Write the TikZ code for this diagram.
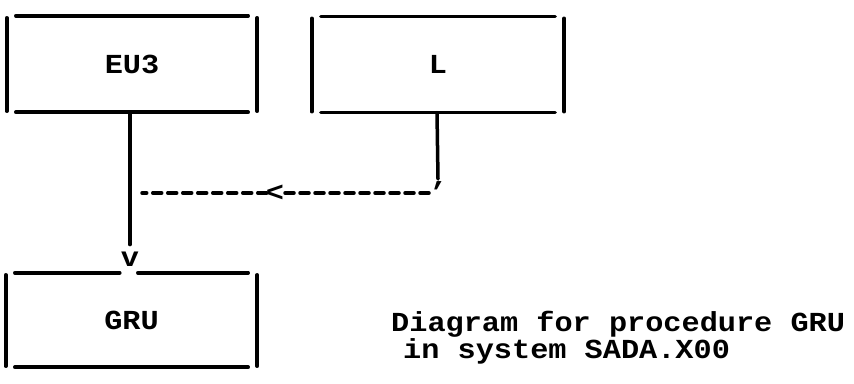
\documentclass[tikz,border=0pt]{standalone}
\usepackage{fontspec}
\setmainfont{Liberation Mono}[FakeStretch=1.1]
\begin{document}
\begin{tikzpicture}[x=1pt,y=-1pt,
  ln/.style={line width=3.5pt,line cap=round},
  dsh/.style={line width=3.5pt,line cap=round,dash pattern=on 9pt off 6pt},
  lbl/.style={inner sep=0pt,font=\fontsize{27.5}{26.5}\selectfont\bfseries},
  boxlbl/.style={lbl,minimum width=#1,minimum height=96pt},
  captext/.style={lbl,align=left,anchor=north west}]
\useasboundingbox (0,0) rectangle (854,383);
% box labels (boxes drawn as separate sides)
\node[boxlbl=250pt] (eu3) at (132,64) {EU3};
\node[boxlbl=252pt] (l) at (438,64.5) {L};
\node[boxlbl=251pt,minimum height=94pt] (gru) at (131.5,320) {GRU};
% sides
\foreach \b in {eu3,l} {
  \draw[ln] ([xshift=9pt]\b.north west) -- ([xshift=-9pt]\b.north east);
  \draw[ln] ([xshift=9pt]\b.south west) -- ([xshift=-9pt]\b.south east);
  \draw[ln] ([yshift=-2pt]\b.north west) -- ([yshift=1pt]\b.south west);
  \draw[ln] ([yshift=-2pt]\b.north east) -- ([yshift=1pt]\b.south east);
}
\draw[ln] ([xshift=9pt]gru.north west) -- ([xshift=114pt]gru.north west);
\draw[ln] ([xshift=132pt]gru.north west) -- ([xshift=-9pt]gru.north east);
\draw[ln] ([xshift=9pt]gru.south west) -- ([xshift=-9pt]gru.south east);
\draw[ln] ([yshift=-2pt]gru.north west) -- ([yshift=1pt]gru.south west);
\draw[ln] ([yshift=-2pt]gru.north east) -- ([yshift=1pt]gru.south east);
% arrow EU3 -> GRU
\node[lbl] (v) at (130,259) {v};
\draw[ln] ([xshift=-2pt]eu3.south) -- ([yshift=7pt]v.north);
% dashed connector from L
\node[lbl,anchor=north] (ap) at (438,181) {’};
\draw[ln] ([xshift=-1pt]l.south) -- ([yshift=2pt]ap.north);
\coordinate (dr) at (429,193);
\coordinate (dl) at (142,193);
\node[lbl] (lt) at (275,193) {<};
\draw[dsh] (dr) -- ([xshift=-1pt]lt.east);
\draw[dsh] ([xshift=1pt]lt.west) -- (dl);
% caption
\node[captext] (cap) at (391,311) {Diagram for procedure GRU\\\hspace*{12pt}in system SADA.X00};
\end{tikzpicture}
\end{document}
